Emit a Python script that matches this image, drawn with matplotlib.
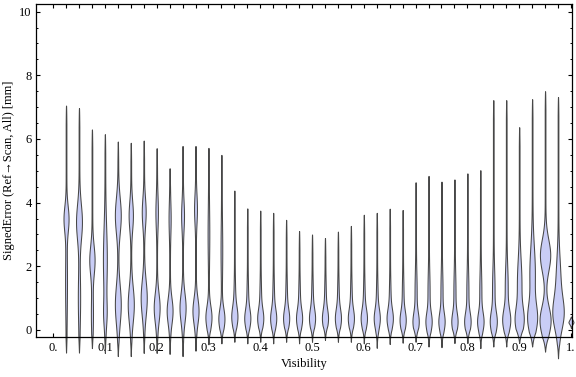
import numpy as np
import matplotlib
matplotlib.use("Agg")
import matplotlib.pyplot as plt
from matplotlib.ticker import MultipleLocator

plt.rcParams['font.family'] = ['Liberation Serif', 'DejaVu Serif']

# ---- data ----
visibility = [0.025, 0.05, 0.075, 0.1, 0.125, 0.15, 0.175, 0.2, 0.225, 0.25,
              0.275, 0.3, 0.325, 0.35, 0.375, 0.4, 0.425, 0.45, 0.475, 0.5,
              0.525, 0.55, 0.575, 0.6, 0.625, 0.65, 0.675, 0.7, 0.725, 0.75,
              0.775, 0.8, 0.825, 0.85, 0.875, 0.9, 0.925, 0.95, 0.975, 1.0]
err_max = [7.05, 6.97, 6.30, 6.15, 5.92, 5.88, 5.95, 5.71, 5.08, 5.78,
           5.78, 5.72, 5.50, 4.38, 3.82, 3.75, 3.68, 3.46, 3.11, 3.00,
           2.89, 3.09, 3.27, 3.62, 3.68, 3.81, 3.77, 4.64, 4.84, 4.66,
           4.73, 4.92, 5.02, 7.22, 7.22, 6.37, 7.25, 7.50, 7.32, 0.42]
err_min = [-0.71, -0.71, -0.57, -0.72, -0.82, -0.82, -0.72, -0.72, -0.75, -0.82,
           -0.65, -0.45, -0.42, -0.37, -0.42, -0.37, -0.42, -0.37, -0.42, -0.37,
           -0.31, -0.37, -0.37, -0.42, -0.56, -0.44, -0.40, -0.37, -0.52, -0.54,
           -0.41, -0.41, -0.57, -0.52, -0.52, -0.41, -0.52, -0.68, -0.89, 0.06]
# lower density mode: centre, spread, relative width
lo_mode = [1.5, 1.0, 0.5, 0.5, 0.8, 0.8, 1.0, 0.7, 0.6, 0.7,
           0.6, 0.4, 0.35, 0.4, 0.35, 0.35, 0.35, 0.35, 0.35, 0.35,
           0.35, 0.35, 0.35, 0.35, 0.35, 0.35, 0.3, 0.25, 0.25, 0.25,
           0.25, 0.25, 0.25, 0.25, 0.3, 0.3, 0.35, 0.3, 0.5, 0.25]
lo_sd = [1.0, 0.8, 0.6, 0.4, 0.6, 0.55, 0.55, 0.45, 0.4, 0.45,
         0.4, 0.35, 0.33, 0.32, 0.3, 0.3, 0.3, 0.3, 0.3, 0.3,
         0.3, 0.3, 0.3, 0.3, 0.3, 0.3, 0.3, 0.3, 0.3, 0.3,
         0.3, 0.3, 0.3, 0.33, 0.35, 0.4, 0.45, 0.45, 0.5, 0.1]
lo_w = [0.6, 0.8, 0.7, 1.1, 2.6, 2.7, 2.7, 2.6, 2.6, 2.7,
        2.7, 2.7, 2.7, 2.5, 2.5, 2.5, 2.5, 2.5, 2.5, 2.5,
        2.5, 2.5, 2.5, 2.6, 2.5, 2.6, 2.6, 2.6, 2.6, 2.6,
        2.6, 2.7, 2.7, 3.0, 3.5, 3.8, 4.2, 5.2, 4.8, 2.2]
# upper density mode
hi_mode = [3.5, 3.4, 2.2, 2.2, 3.6, 3.6, 3.7, 3.7, 3.5, 3.6,
           3.8, 3.0, 2.5, 1.0, 1.0, 1.0, 1.0, 1.0, 1.0, 1.0,
           1.0, 1.0, 1.0, 1.0, 1.0, 1.0, 1.1, 1.2, 1.2, 1.2,
           1.2, 1.2, 1.2, 1.3, 1.4, 1.5, 1.8, 2.35, 1.6, 0.25]
hi_sd = [0.4, 0.55, 0.45, 1.0, 0.55, 0.45, 0.45, 0.5, 0.5, 0.45,
         0.45, 0.8, 0.8, 0.5, 0.5, 0.5, 0.5, 0.5, 0.5, 0.5,
         0.5, 0.5, 0.5, 0.5, 0.5, 0.5, 0.5, 0.6, 0.6, 0.6,
         0.6, 0.6, 0.6, 0.6, 0.6, 0.7, 0.8, 0.5, 0.7, 0.1]
hi_w = [2.1, 2.6, 2.3, 1.6, 2.6, 1.8, 1.6, 0.9, 0.7, 1.1,
        1.1, 0.5, 0.5, 0.5, 0.5, 0.5, 0.5, 0.5, 0.5, 0.5,
        0.5, 0.5, 0.5, 0.5, 0.5, 0.5, 0.5, 0.7, 0.7, 0.7,
        0.7, 0.7, 0.7, 0.9, 1.1, 1.9, 2.4, 4.8, 1.9, 0.0]

x_ticklabels = ["0.", "0.1", "0.2", "0.3", "0.4", "0.5", "0.6", "0.7", "0.8", "0.9", "1."]

# ---- figure ----
fig = plt.figure(figsize=(5.76, 3.77), dpi=100)
ax = fig.add_axes([36/576, 1-337.3/377, 536/576, 333.3/377])
ax.set_xlim(-0.033, 1.002)
ax.set_ylim(-0.23, 10.24)

px = 1.035 / 536.0  # data-x units per pixel
for i, xc in enumerate(visibility):
    lo, hi = err_min[i], err_max[i]
    y = np.linspace(lo, hi, 600)
    h = 0.35 + lo_w[i] * np.exp(-0.5 * ((y - lo_mode[i]) / lo_sd[i]) ** 2) \
        + hi_w[i] * np.exp(-0.5 * ((y - hi_mode[i]) / hi_sd[i]) ** 2)
    span = hi - lo
    L = min(0.45, span / 2)
    t = np.clip((y - lo) / L, 0, 1) ** 0.8 * np.clip((hi - y) / min(0.6, span / 2), 0, 1) ** 0.5
    h = h * t * px
    ax.fill_betweenx(y, xc - h, xc + h, facecolor='#c9cdf6', edgecolor='#474747',
                     linewidth=0.75, clip_on=False, zorder=2)

xt = np.round(np.arange(0, 1.0001, 0.025), 3)
ax.set_xticks(xt)
labels = []
j = 0
for v in xt:
    if abs(v * 10 - round(v * 10)) < 1e-6:
        labels.append(x_ticklabels[j]); j += 1
    else:
        labels.append("")
ax.set_xticklabels(labels)
ax.set_yticks([0, 2, 4, 6, 8, 10])
ax.set_yticklabels(["0", "2", "4", "6", "8", "10"])
ax.yaxis.set_minor_locator(MultipleLocator(0.5))

ax.tick_params(axis='x', which='major', direction='in', length=3, width=0.8,
               top=True, bottom=True, labelsize=9, pad=3.5)
ax.tick_params(axis='y', which='major', direction='in', length=3.2, width=0.8,
               left=True, right=True, labelsize=9, pad=3)
ax.tick_params(axis='y', which='minor', direction='in', length=1.6, width=0.7,
               left=True, right=True)
for s in ax.spines.values():
    s.set_linewidth(0.9)

ax.set_xlabel("Visibility", fontsize=9, labelpad=3)
ax.set_ylabel("SignedError (Ref\u2192Scan, All) [mm]", fontsize=9, labelpad=3)

fig.savefig("out.png", dpi=100)
